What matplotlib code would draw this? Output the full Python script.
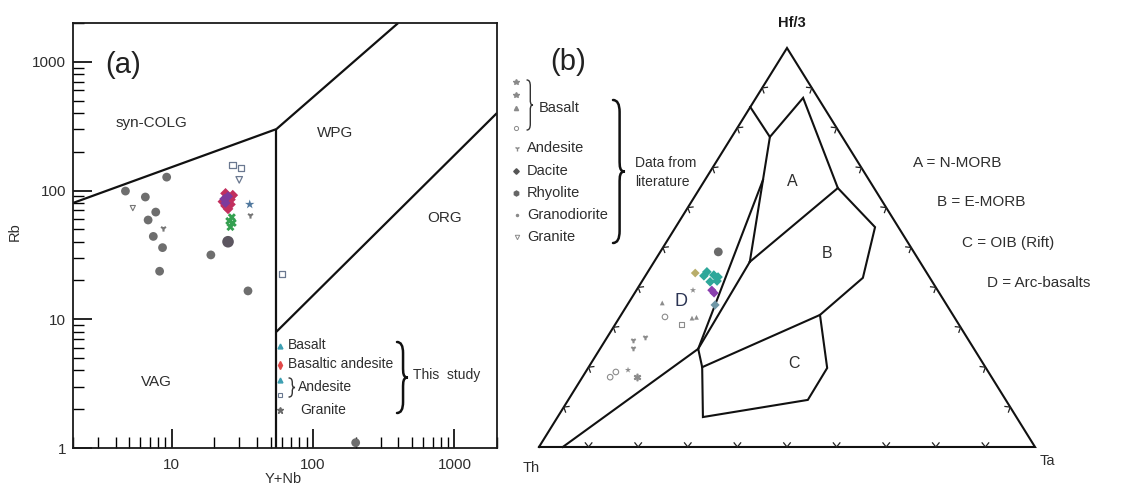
import numpy as np
import matplotlib
matplotlib.use("Agg")
import matplotlib.pyplot as plt
from matplotlib.path import Path
from matplotlib.patches import PathPatch
from matplotlib.transforms import Affine2D
from matplotlib.ticker import FixedLocator, FixedFormatter, LogLocator, NullFormatter

plt.rcParams['font.family'] = ['Liberation Sans', 'DejaVu Sans']

W, H = 1130, 488
TXT = '#2e2e2e'

# ---------------- (a) Rb vs (Y+Nb) discrimination ----------------
# Field boundaries (Pearce et al., 1984)
colg_vag_x, colg_vag_y = [2, 55], [80, 300]
vag_wpg_x, vag_wpg_y = [55, 55], [300, 1]
colg_wpg_x, colg_wpg_y = [55, 400], [300, 2000]
wpg_org_x, wpg_org_y = [55, 2000], [8, 400]

# Literature data (grey filled circles)
lit_yn = [9.2, 4.7, 6.5, 7.7, 6.8, 7.4, 8.6, 8.2, 18.9, 34.6, 200]
lit_rb = [127, 99, 89, 68, 59, 44, 36, 23.6, 31.6, 16.6, 1.1]
lit_gr_yn, lit_gr_rb = [5.3], [73]          # granite (open triangle)
lit_an_yn, lit_an_rb = [8.6, 35.6], [51, 65]  # andesite (small tick)

# This study
ba_yn = [24, 25, 23, 26, 24, 25, 27, 26]
ba_rb = [95, 88, 82, 85, 76, 72, 92, 78]
bap_yn = [25, 24, 23.5]
bap_rb = [90, 80, 86]
bas_yn = [26.6, 27, 26, 25.5]
bas_rb = [62, 56, 52, 58]
bst_yn, bst_rb = [35.6], [78]
and_sq_yn = [27, 31, 60]
and_sq_rb = [158, 150, 22.4]
and_tr_yn, and_tr_rb = [30], [121]
gra_yn, gra_rb = [25], [40]

fig = plt.figure(figsize=(W / 100, H / 100), dpi=100)
pix = Affine2D().scale(1, -1).translate(0, H).scale(1 / W, 1 / H) + fig.transFigure

ax = fig.add_axes([73 / W, (H - 448) / H, 424 / W, 425 / H])
ax.set_xscale('log')
ax.set_yscale('log')
ax.set_xlim(2, 2000)
ax.set_ylim(1, 2000)
for sp in ax.spines.values():
    sp.set_linewidth(1.3)
    sp.set_color('#1a1a1a')

ax.xaxis.set_major_locator(FixedLocator([10, 100, 1000]))
ax.xaxis.set_major_formatter(FixedFormatter(['10', '100', '1000']))
ax.yaxis.set_major_locator(FixedLocator([1, 10, 100, 1000]))
ax.yaxis.set_major_formatter(FixedFormatter(['1', '10', '100', '1000']))
ax.xaxis.set_minor_locator(LogLocator(base=10, subs=np.arange(2, 10)))
ax.yaxis.set_minor_locator(LogLocator(base=10, subs=np.arange(2, 10)))
ax.xaxis.set_minor_formatter(NullFormatter())
ax.yaxis.set_minor_formatter(NullFormatter())
ax.tick_params(which='major', direction='in', length=14, width=1.2,
               labelsize=11, labelcolor=TXT, top=False, right=False)
ax.tick_params(which='minor', direction='in', length=8, width=1.0,
               top=False, right=False)
ax.tick_params(axis='x', which='major', pad=7)
ax.tick_params(axis='y', which='major', pad=5)

for bx_, by_ in [(colg_vag_x, colg_vag_y), (vag_wpg_x, vag_wpg_y),
                 (colg_wpg_x, colg_wpg_y), (wpg_org_x, wpg_org_y)]:
    ax.plot(bx_, by_, color='#111111', lw=1.6, solid_capstyle='butt')

ax.scatter(lit_yn, lit_rb, s=40, color='#6e6e6e', edgecolor='none', zorder=3)
ax.scatter(lit_gr_yn, lit_gr_rb, s=14, marker='v', facecolor='none',
           edgecolor='#777777', lw=0.8, zorder=3)
ax.scatter(lit_an_yn, lit_an_rb, s=20, marker='1', color='#777777', zorder=3)
ax.scatter(and_sq_yn, and_sq_rb, s=22, marker='s', facecolor='none',
           edgecolor='#6a7890', lw=0.9, zorder=3)
ax.scatter(and_tr_yn, and_tr_rb, s=22, marker='v', facecolor='none',
           edgecolor='#6a7890', lw=0.9, zorder=3)
ax.scatter(ba_yn, ba_rb, s=30, marker='D', color='#c22f5e', edgecolor='none', zorder=4)
ax.scatter(bap_yn, bap_rb, s=26, marker='D', color='#7d3a9c', edgecolor='none', zorder=4)
ax.scatter(bas_yn, bas_rb, s=34, marker='X', color='#34a050', edgecolor='none', zorder=4)
ax.scatter(bst_yn, bst_rb, s=50, marker='*', color='#50789e', edgecolor='none', zorder=4)
ax.scatter(gra_yn, gra_rb, s=70, color='#5c5660', edgecolor='none', zorder=4)

ax.set_xlabel('Y+Nb', fontsize=10.5, color=TXT)
ax.set_ylabel('Rb', fontsize=10.5, color=TXT)
ax.xaxis.set_label_coords(0.495, -0.056)
ax.yaxis.set_label_coords(-0.12, 0.51)

ax.text(0.118, 0.902, '(a)', transform=ax.transAxes, fontsize=21,
        ha='center', va='center', color='#222222')
for label, fx, fy in [('syn-COLG', 0.186, 0.765), ('WPG', 0.618, 0.741),
                      ('ORG', 0.877, 0.541), ('VAG', 0.196, 0.155)]:
    ax.text(fx, fy, label, transform=ax.transAxes, fontsize=11,
            ha='center', va='center', color=TXT)


def brace(x, y0, y1, w, lw=1.6, color='#111111'):
    """Right-facing curly brace in figure pixel space."""
    ym = 0.5 * (y0 + y1)
    k = min(w, 0.25 * (y1 - y0))
    verts = [(x, y0), (x + w * 0.55, y0), (x + w * 0.55, y0 + k),
             (x + w * 0.55, y0 + k), (x + w * 0.55, ym - k),
             (x + w * 0.55, ym - k * 0.4), (x + w * 0.55, ym), (x + w, ym),
             (x + w * 0.55, ym), (x + w * 0.55, ym + k * 0.4), (x + w * 0.55, ym + k),
             (x + w * 0.55, ym + k), (x + w * 0.55, y1 - k),
             (x + w * 0.55, y1), (x, y1)]
    codes = [Path.MOVETO, Path.CURVE3, Path.CURVE3,
             Path.LINETO, Path.LINETO,
             Path.CURVE4, Path.CURVE4, Path.CURVE4,
             Path.CURVE4, Path.CURVE4, Path.CURVE4,
             Path.LINETO, Path.LINETO,
             Path.CURVE3, Path.CURVE3]
    fig.add_artist(PathPatch(Path(verts, codes), transform=pix, fill=False,
                             lw=lw, color=color, capstyle='round'))


def mark(px, py, **kw):
    fig.add_artist(plt.Line2D([px], [py], transform=pix, linestyle='none', **kw))


def ftext(px, py, s, **kw):
    kw.setdefault('color', TXT)
    kw.setdefault('fontsize', 10)
    kw.setdefault('va', 'center')
    fig.text(px / W, 1 - py / H, s, **kw)


# legend of panel (a)
mark(280, 346, marker='^', ms=3.5, color='#3d9fb2')
ftext(288, 345, 'Basalt')
mark(280, 365, marker='d', ms=3.8, color='#e04848')
ftext(288, 364, 'Basaltic andesite')
mark(280, 380, marker='^', ms=3.5, color='#3d9fb2')
mark(280, 395, marker='s', ms=3.5, mfc='none', mec='#6a7890', mew=0.8)
brace(289, 378, 397, 6, lw=1.0, color='#333333')
ftext(298, 387, 'Andesite')
mark(280, 410, marker='*', ms=5, color='#6a6a6a')
ftext(300, 410, 'Granite')
brace(397, 342, 413, 11, lw=1.8)
ftext(413, 375, 'This  study')

# ---------------- (b) Th - Hf/3 - Ta ternary ----------------
# Field boundaries (Wood, 1980) as (Th, Hf/3, Ta) percentages
tri_side = [(100, 0, 0), (0, 100, 0), (0, 0, 100), (100, 0, 0)]
a_outline = [(14.8, 85.2, 0), (14.6, 77.7, 7.7), (3.0, 87.5, 9.5),
             (7.3, 64.9, 27.8), (34.3, 46.4, 19.3)]
a_left = [(14.6, 77.7, 7.7), (34.3, 46.4, 19.3)]
d_right = [(21.4, 66.9, 11.7), (55.6, 24.6, 19.8)]
b_left = [(34.3, 46.4, 19.3), (55.6, 24.6, 19.8)]
d_lower_c = [(95.2, 0, 4.8), (55.6, 24.6, 19.8), (57.1, 20.0, 22.9),
             (63.2, 7.5, 29.3), (39.9, 11.8, 48.3), (32.0, 19.8, 48.2),
             (26.8, 33.1, 40.1)]
b_outline = [(57.1, 20.0, 22.9), (26.8, 33.1, 40.1), (13.5, 42.4, 44.1),
             (4.7, 55.1, 40.2), (7.3, 64.9, 27.8)]

# This study (Th, Hf/3, Ta)
st_teal = [(44.2, 43.9, 11.9), (43.2, 43.1, 13.7), (43.3, 41.6, 15.1),
           (44.8, 41.4, 13.8), (45.3, 42.9, 11.8), (42.6, 42.6, 14.8)]
st_purple = [(45.5, 39.3, 15.2), (45.4, 38.6, 16.0)]
st_slate = [(46.7, 35.6, 17.7)]
st_olive = [(46.7, 43.6, 9.7)]
st_granite = [(39.4, 48.9, 11.7)]
# Literature
lt_basalt_star = [(49.3, 39.3, 11.4), (72.4, 19.3, 8.3)]
lt_basalt_ast = [(71.5, 17.5, 11.0)]
lt_basalt_tri = [(53.0, 32.3, 14.7), (52.0, 32.5, 15.5), (57.1, 36.1, 6.8)]
lt_basalt_circ = [(58.3, 32.6, 9.1), (76.9, 17.5, 5.6), (75.1, 18.8, 6.1)]
lt_andesite = [(64.8, 27.6, 7.6), (68.6, 24.8, 6.6), (67.6, 26.8, 5.6)]
lt_square = [(55.9, 30.6, 13.5)]


def txy(pts):
    a = np.asarray(pts, dtype=float)
    a = a / a.sum(axis=1, keepdims=True)
    hf, ta = a[:, 1], a[:, 2]
    return ta + hf / 2, hf


bx = fig.add_axes([500 / W, 0, 630 / W, 1])
bx.set_xlim(-0.0786, 1.1915)
bx.set_ylim(-0.1028, 1.1203)
bx.axis('off')

for poly in [tri_side, a_outline, a_left, d_right, b_left, d_lower_c, b_outline]:
    x, y = txy(poly)
    bx.plot(x, y, color='#111111', lw=1.5, solid_joinstyle='miter')

# chevron ticks at 10 % steps on each side
fig.canvas.draw()
to_disp = bx.transData
to_data = bx.transData.inverted()
corners = np.array([to_disp.transform(p) for p in zip(*txy(tri_side[:3]))])
centroid = corners.mean(axis=0)
for i in range(3):
    p0, p1 = corners[i], corners[(i + 1) % 3]
    for f in np.arange(1, 10) / 10:
        v = p0 + f * (p1 - p0)
        d = (p1 - p0) / np.linalg.norm(p1 - p0)
        n = np.array([-d[1], d[0]])
        if np.dot(centroid - v, n) < 0:
            n = -n
        arms = [v + 5.5 * (0.75 * n + sgn * 0.6 * d) for sgn in (1, -1)]
        seg = to_data.transform(np.array([arms[0], v, arms[1]]))
        bx.plot(seg[:, 0], seg[:, 1], color='#222222', lw=0.9)

# literature points
kw_l = dict(color='#8c8c8c', zorder=3)
bx.scatter(*txy(lt_basalt_star), s=22, marker='*', edgecolor='none', **kw_l)
bx.scatter(*txy(lt_basalt_ast), s=22, marker='$\\ast$', **kw_l)
bx.scatter(*txy(lt_basalt_tri), s=12, marker='^', edgecolor='none', **kw_l)
bx.scatter(*txy(lt_basalt_circ), s=16, marker='o', facecolor='none',
           edgecolor='#8c8c8c', lw=0.8, zorder=3)
bx.scatter(*txy(lt_andesite), s=16, marker='1', **kw_l)
bx.scatter(*txy(lt_square), s=14, marker='s', facecolor='none',
           edgecolor='#8c8c8c', lw=0.8, zorder=3)
# this study
bx.scatter(*txy(st_granite), s=40, color='#6a6a6a', edgecolor='none', zorder=4)
bx.scatter(*txy(st_olive), s=20, marker='D', color='#b8ad6a', edgecolor='none', zorder=4)
bx.scatter(*txy(st_teal), s=24, marker='D', color='#2ea79a', edgecolor='none', zorder=5)
bx.scatter(*txy(st_purple), s=22, marker='D', color='#8a3fae', edgecolor='none', zorder=5)
bx.scatter(*txy(st_slate), s=22, marker='D', color='#6f97a6', edgecolor='none', zorder=5)

ftext(792, 23, 'Hf/3', fontsize=10.5, fontweight='bold', ha='center', color='#1a1a1a')
ftext(531, 468, 'Th', fontsize=10.5, ha='center')
ftext(1047, 461, 'Ta', fontsize=10.5, ha='center')
ftext(568, 62, '(b)', fontsize=21, ha='center', color='#222222')
ftext(792, 182, 'A', fontsize=11.5, ha='center')
ftext(827, 254, 'B', fontsize=11.5, ha='center')
ftext(794, 363, 'C', fontsize=11.5, ha='center')
ftext(681, 302, 'D', fontsize=13, ha='center', color='#2c3554')
ftext(913, 163, 'A = N-MORB', fontsize=11)
ftext(937, 202, 'B = E-MORB', fontsize=11)
ftext(962, 243, 'C = OIB (Rift)', fontsize=11)
ftext(987, 283, 'D = Arc-basalts', fontsize=11)

# legend of panel (b)
g = '#8a8a8a'
mark(516, 82, marker='*', ms=4, color=g)
mark(516, 95, marker='*', ms=4, color=g)
mark(516, 108, marker='^', ms=3, color=g)
mark(516, 128, marker='o', ms=3, mfc='none', mec=g, mew=0.7)
brace(527, 80, 130, 6, lw=1.0, color='#333333')
ftext(539, 108, 'Basalt', fontsize=10.5)
mark(517, 148, marker='1', ms=4, color=g)
ftext(527, 148, 'Andesite', fontsize=10.5)
mark(516, 171, marker='D', ms=2.8, color='#555555')
ftext(527, 171, 'Dacite', fontsize=10.5)
mark(516, 193, marker='h', ms=3.6, color='#666666')
ftext(527, 193, 'Rhyolite', fontsize=10.5)
mark(517, 215, marker='.', ms=3, color=g)
ftext(527, 215, 'Granodiorite', fontsize=10.5)
mark(517, 237, marker='v', ms=3.2, mfc='none', mec=g, mew=0.7)
ftext(527, 237, 'Granite', fontsize=10.5)
brace(613, 100, 243, 12, lw=1.8)
ftext(635, 163, 'Data from', fontsize=10)
ftext(635, 182, 'literature', fontsize=10)

fig.savefig('out.png', dpi=100, facecolor='white')
